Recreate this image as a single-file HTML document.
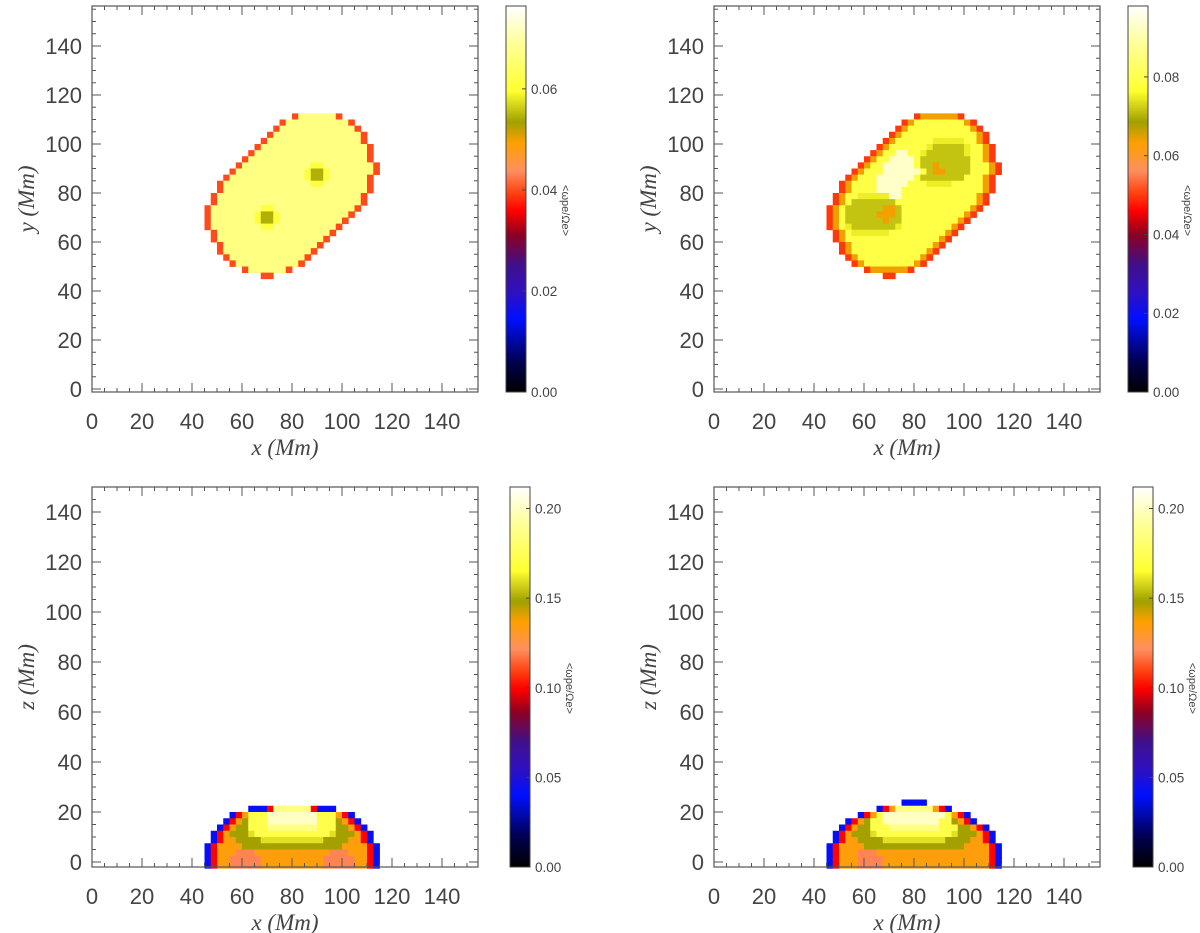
<!DOCTYPE html>
<html><head><meta charset="utf-8"><style>
html,body{margin:0;padding:0;background:#fff;}
svg{display:block;}
text{font-family:"Liberation Sans",sans-serif;fill:#444;}
.ttl{font-family:"Liberation Serif",serif;font-style:italic;font-size:23px;fill:#444;}
</style></head><body>
<svg id="fig" width="1200" height="933" viewBox="0 0 1200 933" xmlns="http://www.w3.org/2000/svg"></svg>
<script>
// ---------- data ----------
const cellSize = 2.5;   // Mm
const cellX0 = 45;      // Mm, left edge of column 0
const topRowY = [111.25,108.75,106.25,103.75,101.25,98.75,96.25,93.75,91.25,88.75,86.25,83.75,81.25,78.75,76.25,73.75,71.25,68.75,66.25,63.75,61.25,58.75,56.25,53.75,51.25,48.75,46.25];
const topRowStart = [14,12,11,10,9,8,7,6,5,4,3,2,2,1,1,0,0,0,0,1,1,2,2,3,4,6,9];
const tlRows = ["e 7*6 e","e 7*10 e","e 7*12 e","e 7*14 e","e 7*15 e","e 7*17 e","e 7*18 e","e 7*19 e",
 "e 7*11 6*2 7*8 e","e 7*11 6 4*2 6 7*7 e","e 7*12 6 4*2 6 7*6 e","e 7*14 6*2 7*7 e","e 7*23 e","e 7*23 e","e 7*23 e",
 "e 7*8 6*2 7*13 e","e 7*7 6 4*2 6 7*11 e","e 7*7 6 4*2 6 7*10 e","e 7*8 6*2 7*10 e","e 7*18 e","e 7*17 e","e 7*15 e",
 "e 7*14 e","e 7*12 e","e 7*10 e","e 7*6 e","e e"];
const trRows = ["e 3*6 e","e 3 6*8 3 e","e 3 6*10 3 e","e 3 6*12 3 e","e 3 6*6 5*5 6*2 3 e","e 3 6*6 5 4*5 5 6*2 3 e",
 "e 3 6*2 8*2 6*2 5 4*6 5 6*2 3 e","e 3 6*2 8*4 6 4*8 6*2 3 e","e 3 6*2 8*5 6 4*2 3 4*5 6*3 3 e","e 3 6*3 8*6 6 4 3*2 4*4 6*3 3 e",
 "e 3 6*3 8*6 6 4*7 6*3 3 e","e 3 6*4 8*5 6*3 5*4 6*5 3 e","e 3 6*4 8*4 6*13 3 e","e 3 6*2 5*5 8*2 6*12 3 e","e 3 6 4*7 6*13 3 e",
 "e 3 6 4*6 3*2 4 6*11 3 e","e 3 6 4*5 3*3 4 6*10 3 e","e 3 6 4*6 3 4*2 6*9 3 e","e 3 6 5 4*7 5 6*8 3 e","e 3 6 5*6 6*9 3 e",
 "e 3 6*15 3 e","e 3 6*13 3 e","e 3 6*12 3 e","e 3 6*10 3 e","e 3 6*8 3 e","e 3*6 e","e e"];
const tlCodes = ["e","3","4","5","6","7","8"];
const tlValues = [0.040,0.049,0.0545,0.057,0.061,0.067,0.073];
const trCodes = ["e","3","4","5","6","7","8"];
const trValues = [0.050,0.064,0.0715,0.075,0.079,0.086,0.093];
const blRowY = [21.25,18.75,16.25,13.75,11.25,8.75,6.25,3.75,1.25,-1.25];
const blRowStart = [7,4,3,2,1,1,0,0,0,0];
const blRows = ["b*3 e 7*6 e b*3","b e 3 6*3 8*8 6*3 3 e b","b e 3 4 6*3 8*8 6*3 4 3 e b","b e 3 4*2 6*3 7*8 6*3 4*2 3 e b",
 "b e 3 4*3 5 6*12 5 4*3 3 e b","b e 3*2 4*4 5*10 4*4 3*2 e b","b e 3*4 4*16 3*4 e b","b e 3*3 s*3 3*12 s*3 3*3 e b",
 "b e 3*2 s*5 3*10 s*5 3*2 e b","b e 3*2 s*5 3*10 s*5 3*2 e b"];
const brRowY = [23.75,21.25,18.75,16.25,13.75,11.25,8.75,6.25,3.75,1.25,-1.25];
const brRowStart = [12,8,5,3,2,1,1,0,0,0,0];
const brRows = ["b*4","b e 3 7*6 3 e b","b e 3 6 8*10 6 3 e b","b e 3 4 6*2 8*9 6*2 4 3 e b","b e 3 4*2 6*3 7*8 6*3 4*2 3 e b",
 "b e 3 4*3 5 6*12 5 4*3 3 e b","b e 3*2 4*4 5*10 4*4 3*2 e b","b e 3*4 4*16 3*4 e b","b e 3*3 s*3 3*18 e b",
 "b e 3*3 s*4 3*17 e b","b e 3*3 s*4 3*17 e b"];
const botCodes = ["b","e","s","3","4","5","6","7","8"];
const botValues = [0.042,0.1,0.12,0.135,0.148,0.16,0.172,0.186,0.2];
const xTicks = [0,20,40,60,80,100,120,140];
const yTicks = [0,20,40,60,80,100,120,140];
const cbTicksTop1 = ["0.00","0.02","0.04","0.06"];
const cbTicksTop2 = ["0.00","0.02","0.04","0.06","0.08"];
const cbTicksBot = ["0.00","0.05","0.10","0.15","0.20"];

// ---------- helpers ----------
const NS="http://www.w3.org/2000/svg";
const svg=document.getElementById('fig');
function mk(tag,attrs,parent){const e=document.createElementNS(NS,tag);for(const k in attrs)e.setAttribute(k,attrs[k]);(parent||svg).appendChild(e);return e;}
const stops=[[0,[0,0,0]],[0.08,[0,0,80]],[0.19,[0,16,255]],[0.26,[48,16,192]],[0.33,[64,16,138]],[0.41,[144,0,32]],[0.47,[255,0,0]],
 [0.515,[255,64,16]],[0.575,[255,144,96]],[0.645,[255,160,0]],[0.70,[160,160,0]],[0.78,[255,255,48]],[0.9,[255,255,150]],[1,[255,255,255]]];
function cmap(f){f=Math.max(0,Math.min(1,f));for(let i=1;i<stops.length;i++){if(f<=stops[i][0]){const a=stops[i-1],b=stops[i];const t=(f-a[0])/(b[0]-a[0]);
 const c=a[1].map((v,j)=>Math.round(v+(b[1][j]-v)*t));return `rgb(${c[0]},${c[1]},${c[2]})`;}}return '#fff';}
function parseRow(s){const out=[];s.split(' ').forEach(tok=>{const p=tok.split('*');const n=p.length>1?parseInt(p[1]):1;for(let k=0;k<n;k++)out.push(p[0]);});return out;}

function panel(cfg){
  const g=mk('g',{});
  
  
  const xs=v=>cfg.L+(v)*cfg.sx;
  const ys=v=>cfg.y0-(v)*cfg.sy;
  const hg=mk('g',{},g);
  
  
  cfg.rowY.forEach((yc,r)=>{
    const codes=parseRow(cfg.rows[r]);
    codes.forEach((c,k)=>{
      const col=cfg.rowStart[r]+k;
      const v=cfg.values[cfg.codes.indexOf(c)];
      const x0=xs(cellX0+col*cellSize), x1=xs(cellX0+(col+1)*cellSize);
      const yt=ys(yc+cellSize/2), yb=ys(yc-cellSize/2);
      const rc=mk('rect',{x:x0.toFixed(2),y:yt.toFixed(2),width:(x1-x0+0.4).toFixed(2),height:(yb-yt+0.4).toFixed(2),fill:cmap(v/cfg.vmax)},hg);
      
      
    });
  });
  const fr=mk('rect',{x:cfg.L,y:cfg.T,width:cfg.R-cfg.L,height:cfg.B-cfg.T,fill:'none',stroke:'#555','stroke-width':1.2},g);
  
  
  const tg=mk('g',{stroke:'#555','stroke-width':1},g);
  for(let v=0;v<=155;v+=5){const x=xs(v);if(x>cfg.R)break;const len=v%20===0?9:4;
    mk('line',{x1:x,y1:cfg.B,x2:x,y2:cfg.B-len},tg);mk('line',{x1:x,y1:cfg.T,x2:x,y2:cfg.T+len},tg);}
  for(let v=0;v<=160;v+=5){const y=ys(v);if(y<cfg.T)break;const len=v%20===0?9:4;
    mk('line',{x1:cfg.L,y1:y,x2:cfg.L+len,y2:y},tg);mk('line',{x1:cfg.R,y1:y,x2:cfg.R-len,y2:y},tg);}
  xTicks.forEach(v=>{const t=mk('text',{x:xs(v),y:cfg.B+37,'text-anchor':'middle','font-size':22},g);t.textContent=v;
    });
  yTicks.forEach(v=>{const t=mk('text',{x:cfg.L-10,y:ys(v)+8,'text-anchor':'end','font-size':22},g);t.textContent=v;
    });
  const xt=mk('text',{x:(cfg.L+cfg.R)/2,y:cfg.B+63,'text-anchor':'middle',class:'ttl'},g);xt.textContent='x (Mm)';
  
  const yc=(cfg.T+cfg.B)/2;
  const yt=mk('text',{x:cfg.L-58,y:yc,'text-anchor':'middle',class:'ttl',transform:`rotate(-90 ${cfg.L-58} ${yc})`},g);yt.textContent=cfg.ylab+' (Mm)';
  
  const cb=mk('g',{},g);
  
  
  const H=cfg.B-cfg.T;
  for(let i=0;i<H;i++){mk('rect',{x:cfg.cbx,y:cfg.B-i-1,width:20,height:1.3,fill:cmap((i+0.5)/H)},cb);}
  mk('rect',{x:cfg.cbx,y:cfg.T,width:20,height:H,fill:'none',stroke:'#444','stroke-width':1},cb);
  cfg.cbTicks.forEach(s=>{const v=parseFloat(s);const y=cfg.B-(v/cfg.vmax)*H;
    mk('line',{x1:cfg.cbx+20,y1:y,x2:cfg.cbx+16,y2:y,stroke:'#444'},cb);
    const t=mk('text',{x:cfg.cbx+25,y:y+5,'font-size':13.5,fill:'#222'},cb);t.textContent=s;
    });
  const lx=cfg.cbx+56, ly=cfg.T+H*0.53;
  const cl=mk('text',{x:lx,y:ly,'text-anchor':'middle','font-size':11,fill:'#222',transform:`rotate(90 ${lx} ${ly})`},cb);
  cl.textContent='<ωpe/Ωe>';
  
}

panel({name:'panel-top-left',L:92,R:478,T:6,B:392,sx:2.5,sy:2.45,y0:389,rowY:topRowY,rowStart:topRowStart,rows:tlRows,codes:tlCodes,values:tlValues,vmax:0.0764,cbx:506,cbTicks:cbTicksTop1,ylab:'y'});
panel({name:'panel-top-right',L:714,R:1100,T:6,B:392,sx:2.5,sy:2.45,y0:389,rowY:topRowY,rowStart:topRowStart,rows:trRows,codes:trCodes,values:trValues,vmax:0.098,cbx:1128,cbTicks:cbTicksTop2,ylab:'y'});
panel({name:'panel-bottom-left',L:92,R:478,T:487,B:867,sx:2.5,sy:2.5,y0:862,rowY:blRowY,rowStart:blRowStart,rows:blRows,codes:botCodes,values:botValues,vmax:0.212,cbx:510,cbTicks:cbTicksBot,ylab:'z'});
panel({name:'panel-bottom-right',L:714,R:1100,T:487,B:867,sx:2.5,sy:2.5,y0:862,rowY:brRowY,rowStart:brRowStart,rows:brRows,codes:botCodes,values:botValues,vmax:0.212,cbx:1133,cbTicks:cbTicksBot,ylab:'z'});
</script>
</body></html>
